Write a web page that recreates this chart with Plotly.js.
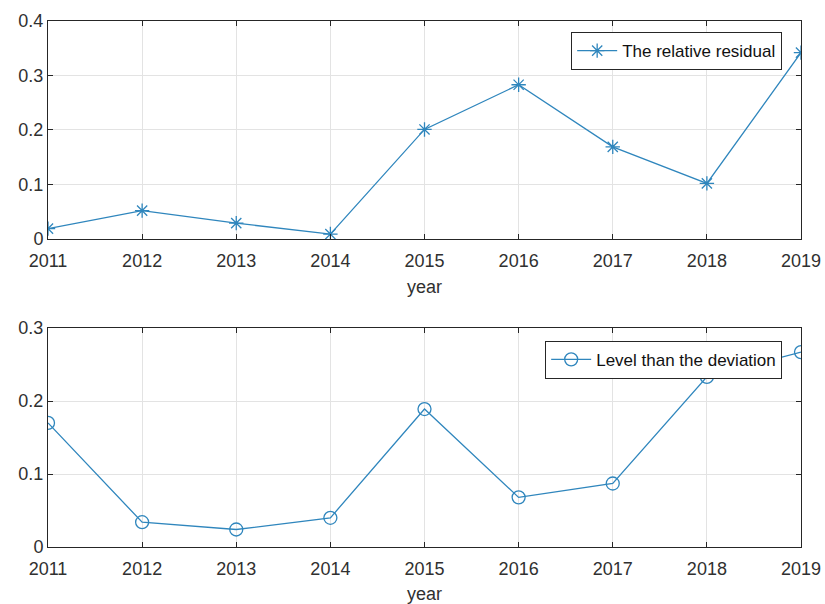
<!DOCTYPE html>
<html>
<head>
<meta charset="utf-8">
<script src="https://cdn.plot.ly/plotly-3.0.1.min.js"></script>
<style>
  html, body { margin: 0; padding: 0; background: #fff; }
  #chart { width: 825px; height: 604px; }
</style>
</head>
<body>
<div id="chart"></div>
<script>
// Years on the shared x scale
const years = [2011, 2012, 2013, 2014, 2015, 2016, 2017, 2018, 2019];

// Upper panel: relative residual per year
const relativeResidual = [0.019, 0.052, 0.029, 0.009, 0.201, 0.283, 0.169, 0.102, 0.342];

// Lower panel: level ratio deviation per year
const levelDeviation = [0.170, 0.034, 0.024, 0.040, 0.189, 0.068, 0.087, 0.233, 0.267];

const lineColor = '#2f86bd';
const textColor = '#303030';
const fontFamily = '"Liberation Sans", Arial, sans-serif';

const traces = [
  {
    x: years, y: relativeResidual,
    name: 'The relative residual',
    mode: 'lines+markers',
    line: { color: lineColor, width: 1.3 },
    marker: { symbol: 'asterisk-open', size: 12, color: lineColor, line: { color: lineColor, width: 1.3 } },
    xaxis: 'x', yaxis: 'y', legend: 'legend'
  },
  {
    x: years, y: levelDeviation,
    name: 'Level than the deviation',
    mode: 'lines+markers',
    line: { color: lineColor, width: 1.3 },
    marker: { symbol: 'circle-open', size: 13, color: lineColor, line: { color: lineColor, width: 1.3 } },
    xaxis: 'x2', yaxis: 'y2', legend: 'legend2'
  }
];

function xAxis(anchor) {
  return {
    anchor: anchor,
    domain: [0, 1],
    range: [2011, 2019],
    tickmode: 'array', tickvals: years, ticktext: years.map(String),
    showgrid: true, gridcolor: '#e3e3e3', gridwidth: 1,
    zeroline: false,
    showline: true, linecolor: '#262626', linewidth: 1, mirror: 'ticks',
    ticks: 'inside', ticklen: 5, tickcolor: '#262626',
    ticklabelstandoff: 5,
    tickfont: { family: fontFamily, size: 18, color: textColor },
    title: { text: 'year', font: { family: fontFamily, size: 18, color: textColor }, standoff: 10 }
  };
}

function yAxis(anchor, domain, max, step) {
  return {
    anchor: anchor,
    domain: domain,
    range: [0, max],
    dtick: step, tick0: 0,
    showgrid: true, gridcolor: '#e3e3e3', gridwidth: 1,
    zeroline: false,
    showline: true, linecolor: '#262626', linewidth: 1, mirror: 'ticks',
    ticks: 'inside', ticklen: 5, tickcolor: '#262626',
    tickfont: { family: fontFamily, size: 18, color: textColor }
  };
}

function legendBox(yTop) {
  return {
    x: 0.975, y: yTop, xanchor: 'right', yanchor: 'top',
    bgcolor: '#ffffff', bordercolor: '#262626', borderwidth: 1,
    font: { family: fontFamily, size: 17, color: '#111' },
    tracegroupgap: 0, itemwidth: 40
  };
}

const layout = {
  width: 825, height: 604,
  margin: { l: 48, r: 24, t: 21, b: 57 },
  paper_bgcolor: '#ffffff', plot_bgcolor: '#ffffff',
  showlegend: true,
  xaxis: xAxis('y'),
  yaxis: yAxis('x', [0.5856, 1], 0.4, 0.1),
  xaxis2: xAxis('y2'),
  yaxis2: yAxis('x2', [0, 0.4163], 0.3, 0.1),
  legend: legendBox(0.979),
  legend2: legendBox(0.392)
};

Plotly.newPlot('chart', traces, layout, { displayModeBar: false, staticPlot: true });
</script>
</body>
</html>
